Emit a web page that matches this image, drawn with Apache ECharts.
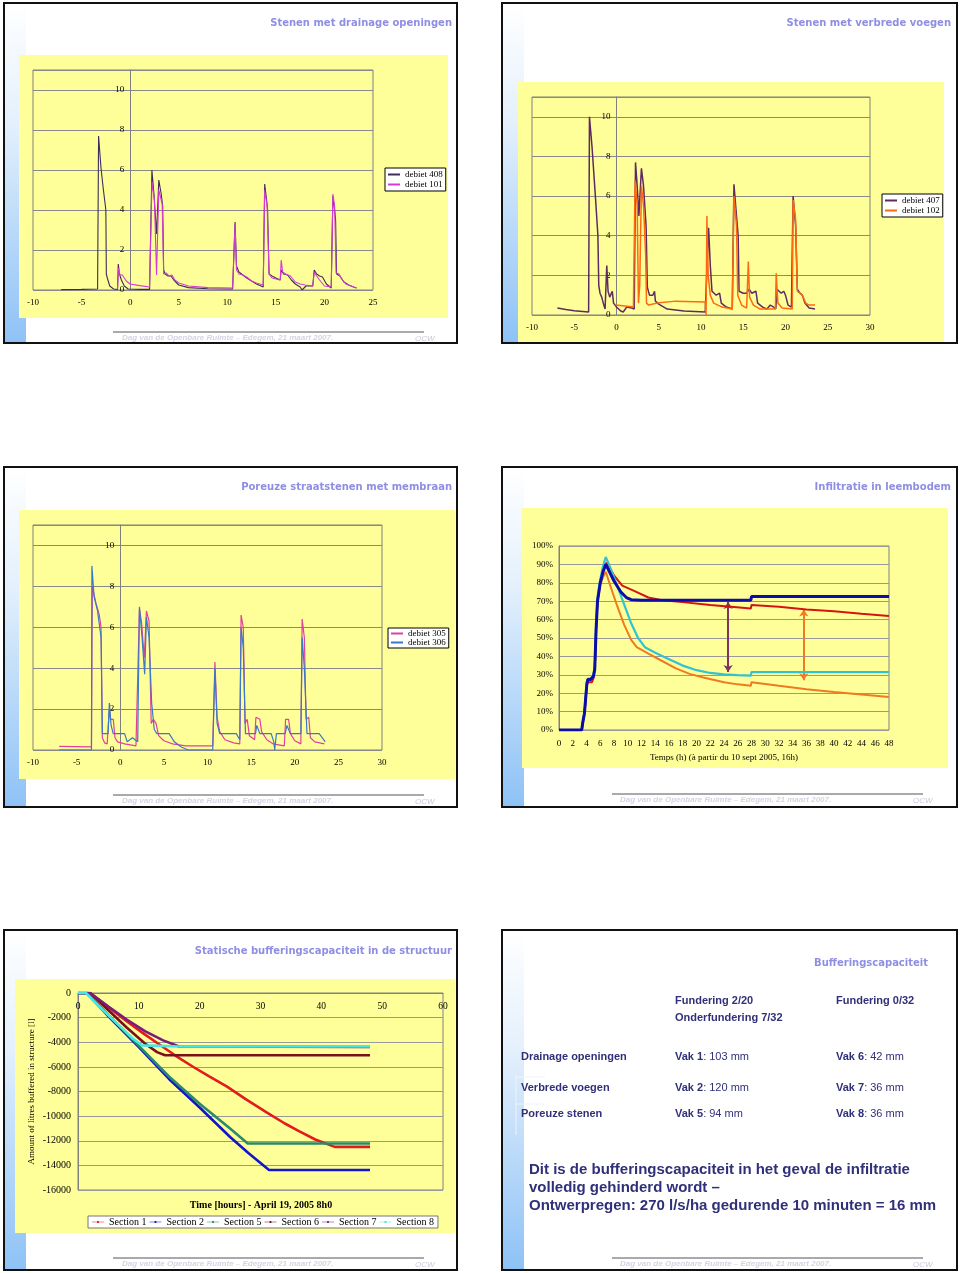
<!DOCTYPE html>
<html><head><meta charset="utf-8">
<script src="https://cdn.jsdelivr.net/npm/echarts@6.0.0/dist/echarts.min.js"></script>
<style>html,body{margin:0;padding:0;background:#fff}#c{width:960px;height:1273px}</style>
</head><body><div id="c"></div>
<script>
// ---------- DATA ----------
// Slide 1: Stenen met drainage openingen  [uur, debiet]
const debiet408 = [[-7.1,0.02],[-5,0.03],[-3.35,0.05],[-3.25,7.7],[-3.0,6.1],[-2.75,5.0],[-2.5,4.0],[-2.45,0.8],[-2.35,0.6],[-2.1,0.2],[-1.7,0.05],[-1.3,0.03],[-1.22,1.3],[-1.1,0.8],[-0.9,0.5],[-0.6,0.2],[-0.2,0.05],[1,0.03],[2.0,0.03],[2.24,6.0],[2.45,4.8],[2.72,2.8],[2.95,5.5],[3.2,4.8],[3.35,4.2],[3.45,1.0],[3.6,0.8],[3.9,0.7],[4.2,0.7],[4.5,0.5],[5,0.25],[6,0.12],[8,0.06],[10.55,0.05],[10.8,3.4],[10.95,1.2],[11.2,0.9],[11.6,0.75],[12,0.6],[12.5,0.45],[13,0.3],[13.7,0.15],[13.85,5.3],[14.05,4.5],[14.15,4.0],[14.3,0.8],[14.6,0.7],[15,0.6],[15.45,0.5],[15.55,1.0],[15.8,0.8],[16.2,0.75],[16.6,0.5],[17,0.3],[17.5,0.15],[17.7,0.0],[17.85,0.05],[18.1,0.2],[18.8,0.2],[18.95,1.0],[19.2,0.8],[19.5,0.7],[19.8,0.65],[20.2,0.3],[20.7,0.1],[20.87,4.7],[21.05,4.0],[21.15,3.5],[21.25,0.8],[21.6,0.7],[22,0.4],[22.5,0.25],[23,0.15],[23.3,0.1]];
const debiet101 = [[-1.3,0.05],[-1.2,1.1],[-1.05,0.75],[-0.8,0.75],[-0.6,0.8],[-0.4,0.45],[0,0.3],[1,0.22],[2.0,0.15],[2.25,5.4],[2.5,4.5],[2.72,0.75],[2.95,5.0],[3.3,4.3],[3.45,0.8],[3.7,0.85],[4.0,0.7],[4.3,0.75],[4.6,0.5],[5,0.35],[6,0.2],[8,0.12],[10.55,0.1],[10.8,3.3],[10.95,1.0],[11.2,0.8],[11.6,0.75],[12,0.65],[12.5,0.45],[13,0.35],[13.7,0.25],[13.85,5.0],[14.1,4.2],[14.3,0.8],[14.6,0.6],[15,0.55],[15.45,0.5],[15.55,1.5],[15.7,0.9],[16,0.8],[16.5,0.7],[17,0.4],[17.5,0.3],[18,0.25],[18.8,0.2],[18.95,0.9],[19.2,0.7],[19.5,0.5],[20,0.2],[20.7,0.15],[20.87,4.8],[21.05,4.2],[21.2,0.85],[21.5,0.8],[21.7,0.6],[22.2,0.3],[23,0.15],[23.3,0.1]];

// Slide 2: Stenen met verbrede voegen
const debiet407 = [[-7.0,0.35],[-6,0.28],[-5,0.22],[-4,0.18],[-3.3,0.15],[-3.2,10.0],[-2.9,8.5],[-2.5,6.0],[-2.2,4.0],[-2.1,1.5],[-1.95,1.1],[-1.75,0.9],[-1.5,0.5],[-1.35,0.3],[-1.15,2.5],[-1.0,1.2],[-0.8,0.9],[-0.6,0.8],[-0.5,1.2],[-0.35,0.6],[0,0.4],[0.5,0.2],[0.8,0.15],[1.2,0.4],[1.8,0.35],[2.1,0.3],[2.25,7.7],[2.45,6.5],[2.65,5.0],[2.95,7.4],[3.2,6.5],[3.5,4.5],[3.65,1.4],[3.9,1.0],[4.3,1.0],[4.5,1.2],[4.6,0.7],[5,0.55],[6,0.3],[8,0.2],[10.5,0.15],[10.9,4.4],[11.1,2.5],[11.3,1.2],[11.8,1.0],[12.2,1.1],[12.4,0.6],[13,0.4],[13.7,0.3],[13.9,6.6],[14.2,5.0],[14.4,4.0],[14.5,1.2],[15,1.1],[15.4,1.1],[15.7,1.3],[16,1.1],[16.5,1.2],[16.7,0.6],[17.3,0.4],[17.8,0.3],[18.2,0.5],[18.6,0.4],[18.85,0.3],[19.0,1.3],[19.5,1.1],[19.8,1.2],[20.0,1.0],[20.3,0.5],[20.7,0.4],[20.9,6.0],[21.2,4.5],[21.4,1.3],[21.7,1.1],[22.0,1.0],[22.3,0.6],[22.8,0.35],[23.5,0.3]];
const debiet102 = [[-0.1,0.5],[1.0,0.45],[2.0,0.4],[2.2,6.8],[2.45,5.5],[2.6,0.6],[2.75,1.5],[2.95,6.5],[3.2,5.5],[3.45,3.0],[3.55,0.6],[3.8,0.5],[4.8,0.6],[5,0.7],[7,0.7],[10.5,0.65],[10.6,0.0],[10.7,5.0],[10.85,2.0],[11.1,1.0],[11.5,0.6],[12.5,0.4],[13.7,0.3],[13.9,6.0],[14.2,4.5],[14.35,1.0],[14.8,0.5],[15.4,0.35],[15.6,2.7],[15.75,0.9],[16.2,0.5],[17,0.3],[18.8,0.3],[18.9,2.1],[19.1,0.6],[19.6,0.35],[20.8,0.3],[20.9,5.8],[21.2,4.8],[21.4,1.2],[21.7,1.1],[22,1.0],[22.4,0.6],[22.8,0.5],[23.5,0.5]];

// Slide 3: Poreuze straatstenen met membraan
const debiet305 = [[-7,0.18],[-3.3,0.15],[-3.2,8.0],[-2.8,7.2],[-2.4,6.6],[-2.2,6.0],[-2.05,0.6],[-1.8,0.35],[-1.5,0.3],[-1.25,2.0],[-1.1,1.5],[-0.8,1.5],[-0.6,0.6],[-0.3,0.4],[0.5,0.3],[1.8,0.2],[2.2,6.9],[2.45,6.2],[2.75,4.5],[3.0,6.8],[3.3,6.3],[3.55,1.3],[3.8,1.5],[4.1,1.3],[4.4,0.7],[5,0.45],[6,0.3],[7.5,0.2],[10.6,0.2],[10.85,4.3],[11.1,1.6],[11.4,0.9],[12,0.5],[13,0.35],[13.7,0.3],[13.85,6.6],[14.1,6.0],[14.3,1.3],[14.55,1.5],[14.8,0.7],[15.4,0.5],[15.55,1.6],[16.0,1.5],[16.2,0.9],[16.8,0.5],[17.5,0.3],[18.8,0.2],[18.95,1.5],[19.3,1.5],[19.5,0.8],[20,0.45],[20.7,0.3],[20.85,6.4],[21.1,5.5],[21.3,1.5],[21.6,1.6],[21.8,0.6],[22.3,0.4],[23.4,0.3]];
const debiet306 = [[-7,0.0],[-3.3,0.0],[-3.25,9.0],[-3.0,7.5],[-2.6,6.8],[-2.2,5.5],[-2.05,0.8],[-1.4,0.8],[-1.25,2.3],[-1.05,1.2],[-0.8,0.8],[0.5,0.8],[0.8,0.4],[1.4,0.6],[2.0,0.4],[2.2,7.0],[2.5,5.5],[2.8,3.7],[3.0,6.5],[3.3,5.5],[3.6,2.3],[3.9,1.0],[4.2,0.8],[5.6,0.8],[6.2,0.4],[7,0.15],[7.8,0.0],[10.6,0.0],[10.85,4.0],[11.1,1.3],[11.4,0.8],[13.3,0.8],[13.7,0.5],[13.85,6.0],[14.1,5.0],[14.35,0.8],[15.5,0.8],[15.65,1.2],[16.0,0.8],[17.3,0.8],[17.6,0.4],[17.7,0.0],[17.9,0.8],[18.9,0.8],[19.1,1.2],[19.5,0.8],[20.7,0.8],[20.85,5.5],[21.1,4.0],[21.4,0.8],[22.8,0.8],[23.5,0.4]];

// Slide 4: Infiltratie in leembodem  [uur, %]
const blueLine = [[0,0],[3.3,0],[3.5,5],[3.7,9],[3.9,10],[4.05,25],[4.2,27.5],[4.6,27.5],[5.0,29],[5.2,33],[5.4,55],[5.6,70],[6.0,80],[6.4,86],[6.8,90],[7.2,87],[8,81],[9,75],[9.8,72],[10.5,70.8],[12,70.5],[27.9,70.5],[28,72.5],[48,72.5]];
const redLine = [[0,0],[3.3,0],[3.5,5],[3.7,9],[3.9,10],[4.05,24],[4.2,26],[4.8,26],[5.0,28],[5.2,33],[5.4,55],[5.6,70],[6.0,80],[6.4,86],[6.9,91],[8.0,84],[9.2,78.5],[11,75.5],[13,72],[15,70.5],[18,69.5],[22,68],[25,67],[27.9,66],[28,68],[32,67],[36,65.5],[40,64.5],[44,63.2],[48,62]];
const cyanLine = [[0,0],[3.3,0],[3.5,5],[3.7,9],[3.9,10],[4.05,26],[4.2,28],[4.6,28],[5.0,30],[5.2,34],[5.4,57],[5.6,72],[6.0,82],[6.4,89],[6.8,94],[7.5,88],[8.5,78],[9.5,68],[10.5,58],[11.5,50],[12.5,45],[14,42],[16,38.5],[18,35],[20,32.5],[22,31],[24,30.2],[26,29.8],[27.9,29.5],[28,31.5],[48,31.5]];
const orangeLine = [[0,0],[3.3,0],[3.5,5],[3.7,9],[3.9,10],[4.05,25],[4.2,27],[4.6,27],[5.0,29],[5.2,33],[5.4,55],[5.6,70],[6.0,79],[6.4,83],[6.8,86],[7.5,78],[8.5,67],[9.5,57],[10.5,49],[11.3,45],[13,41.5],[15,37.5],[17,33.5],[19,30.5],[21,28.5],[24,26],[26,24.8],[27.9,24],[28,26],[30,25],[32,24],[36,22.2],[40,20.7],[44,19.3],[48,18]];
const arrowA = [[24.6,69.5],[24.6,31.5]];
const arrowB = [[35.6,65.5],[35.6,27]];

// Slide 5: Statische bufferingscapaciteit  [uur, liter]
const section1 = [[0,0],[2,0],[5,-1150],[8,-2300],[10.5,-3200],[13.5,-4220],[16,-5080],[18.9,-5990],[21.5,-6750],[24.5,-7600],[27.5,-8600],[31,-9700],[34,-10600],[36.4,-11240],[39,-11900],[42.2,-12500],[48,-12500]];
const section2 = [[0,0],[1.5,0],[5,-1900],[10,-4400],[15,-7000],[20,-9300],[25,-11700],[28,-13000],[31.4,-14380],[48,-14380]];
const section5 = [[0,0],[1.5,0],[5,-1800],[10,-4300],[15,-6800],[20,-9000],[25,-11000],[27.9,-12220],[48,-12220]];
const section6 = [[0,0],[2,0],[5,-1400],[8,-2800],[11,-4100],[13,-4800],[14.3,-5050],[48,-5050]];
const section7 = [[0,0],[2,0],[5,-1100],[8,-2150],[11,-3100],[14,-3850],[16.6,-4350],[48,-4380]];
const section8 = [[0,0],[1.3,0],[4,-1350],[7,-2750],[9,-3700],[10.5,-4250],[16.8,-4350],[48,-4350]];

// Slide 6: Bufferingscapaciteit table
const colHeads = [['Fundering 2/20','Onderfundering 7/32'],['Fundering 0/32']];
const rowHeads = ['Drainage openingen','Verbrede voegen','Poreuze stenen'];
const vakCol1 = [['Vak 1',': 103 mm'],['Vak 2',': 120 mm'],['Vak 5',': 94 mm']];
const vakCol2 = [['Vak 6',': 42 mm'],['Vak 7',': 36 mm'],['Vak 8',': 36 mm']];
const bodyLines = ['Dit is de bufferingscapaciteit in het geval de infiltratie','volledig gehinderd wordt –','Ontwerpregen: 270 l/s/ha gedurende 10 minuten = 16 mm'];
const titles = ['Stenen met drainage openingen','Stenen met verbrede voegen','Poreuze straatstenen met membraan','Infiltratie in leembodem','Statische bufferingscapaciteit in de structuur','Bufferingscapaciteit'];
const footerText = 'Dag van de Openbare Ruimte – Edegem, 21 maart 2007.';

// ---------- LAYOUT ----------
const SERIF = '"Liberation Serif","Times New Roman",serif';
const SANS = '"Liberation Sans",Arial,sans-serif';
const slides = [[4,3,453,340],[502,3,455,340],[4,467,453,340],[502,467,455,340],[4,930,453,340],[502,930,455,340]];
const yellowBoxes = [[19,55,429,263],[518,82,426,260],[19,510,436,269],[522,508,426,260],[15,979,440,254]];
const titlePos = [[452,23],[951,23],[452,487],[951,487],[452,951],[928,963]];
const footers = [[113,424,332,122,415],[113,424,795,122,415],[612,923,794,620,913],[113,424,1258,122,415],[612,923,1258,620,913]];
const YEL = '#ffff99';
const TXT = '#30307a';

const g = [];
slides.forEach(([x,y,w,h]) => {
  g.push({type:'rect', z:-30, shape:{x,y,width:w,height:h}, style:{fill:'#fff'}});
  g.push({type:'rect', z:-29, shape:{x:x+1,y:y+1,width:21,height:h-2},
    style:{fill:new echarts.graphic.LinearGradient(0,0,0,1,[{offset:0,color:'#ffffff'},{offset:0.35,color:'#e4f0fc'},{offset:1,color:'#8ec2f6'}])}});
});
yellowBoxes.forEach(([x,y,w,h]) => g.push({type:'rect', z:-28, shape:{x,y,width:w,height:h}, style:{fill:YEL}}));
footers.forEach(([x1,x2,y,tx,ox]) => {
  g.push({type:'line', z:-27, shape:{x1,y1:y,x2,y2:y}, style:{stroke:'#555', lineWidth:1}});
  g.push({type:'text', z:-27, x:tx, y:y+6, style:{text:footerText, fill:'#d4d4e4', font:'italic bold 8px '+SANS, verticalAlign:'middle', textVerticalAlign:'middle'}});
  g.push({type:'text', z:-27, x:ox, y:y+7, style:{text:'OCW', fill:'#c8c8da', font:'italic 8px '+SANS, verticalAlign:'middle', textVerticalAlign:'middle'}});
});
titles.forEach((t,i) => g.push({type:'text', z:40, x:titlePos[i][0], y:titlePos[i][1],
  style:{text:t, fill:'#8e8ee4', font:'bold 10px "DejaVu Sans",Verdana,sans-serif', align:'right', textAlign:'right', verticalAlign:'middle', textVerticalAlign:'middle'}}));
slides.forEach(([x,y,w,h]) => g.push({type:'rect', z:50, shape:{x,y,width:w,height:h}, style:{fill:'none', stroke:'#111', lineWidth:2}}));

// slide 5 axis title
g.push({type:'text', z:40, x:261, y:1205, style:{text:'Time [hours] - April 19, 2005 8h0', fill:'#000', font:'bold 10px '+SERIF, align:'center', textAlign:'center', verticalAlign:'middle', textVerticalAlign:'middle'}});

// slide 6 text
const tx = (x,y,text,font) => g.push({type:'text', z:40, x, y, style:{text, fill:TXT, font, verticalAlign:'middle', textVerticalAlign:'middle'}});
const richTx = (x,y,pair) => g.push({type:'text', z:40, x, y, style:{text:'{b|'+pair[0]+'}{r|'+pair[1]+'}', verticalAlign:'middle', textVerticalAlign:'middle',
  rich:{b:{fontWeight:'bold', fontSize:11, fontFamily:SANS, fill:TXT, color:TXT}, r:{fontSize:11, fontFamily:SANS, fill:TXT, color:TXT}}}});
g.push({type:'line', z:-26, shape:{x1:516,y1:1074,x2:516,y2:1135}, style:{stroke:'#eef3fa', lineWidth:1}});
g.push({type:'line', z:-26, shape:{x1:516,y1:1077,x2:545,y2:1077}, style:{stroke:'#eef3fa', lineWidth:1}});
g.push({type:'line', z:-26, shape:{x1:516,y1:1104,x2:545,y2:1104}, style:{stroke:'#eef3fa', lineWidth:1}});
tx(675,1001,colHeads[0][0],'bold 11px '+SANS);
tx(675,1018,colHeads[0][1],'bold 11px '+SANS);
tx(836,1001,colHeads[1][0],'bold 11px '+SANS);
const rowY = [1057,1088,1114];
rowHeads.forEach((r,i) => { tx(521,rowY[i],r,'bold 11px '+SANS); richTx(675,rowY[i],vakCol1[i]); richTx(836,rowY[i],vakCol2[i]); });
const bodyY = [1170,1188,1206];
bodyLines.forEach((l,i) => tx(529,bodyY[i],l,'bold 15px '+SANS));

// ---------- AXES ----------
const gridBase = {show:true, borderColor:'#808080', borderWidth:1, backgroundColor:'transparent'};
const gridRects = [[33,70,340,220],[532,97,338,218],[33,525,349,225],[559,546,330,184],[78,993,365,197]];
const grids = gridRects.map(([left,top,width,height]) => Object.assign({left,top,width,height}, gridBase));
const lab = (extra) => Object.assign({fontFamily:SERIF, fontSize:9, color:'#000'}, extra||{});
const debX = (gi,max) => ({type:'value', gridIndex:gi, min:-10, max, interval:5, splitLine:{show:false}, axisLine:{show:false}, axisTick:{show:false}, axisLabel:lab({margin:8})});
// y axis sits at x = 0 of the x axis: offset = pixel distance of x=0 from grid left
const debY = (gi,xmax) => ({type:'value', gridIndex:gi, min:0, max:11, interval:2,
  offset: -gridRects[gi][2] * 10 / (xmax + 10),
  axisLine:{show:true, onZero:false, lineStyle:{color:'#808080'}}, axisTick:{show:false},
  splitLine:{show:true, lineStyle:{color:'#888', width:1}},
  axisLabel:lab({margin:6, formatter:v => v===11 ? '' : String(v)})});
const xAxes = [debX(0,25), debX(1,30), debX(2,30),
  {type:'value', gridIndex:3, min:0, max:48, interval:2, splitLine:{show:false}, axisLine:{show:false}, axisTick:{show:false},
   axisLabel:lab({margin:9}), name:'Temps (h) (à partir du 10 sept 2005, 16h)', nameLocation:'middle', nameGap:23, nameTextStyle:{fontFamily:SERIF, fontSize:9, color:'#000'}},
  {type:'value', gridIndex:4, position:'top', min:0, max:60, interval:10, splitLine:{show:false}, axisLine:{show:true, onZero:false, lineStyle:{color:'#808080'}}, axisTick:{show:false},
   axisLabel:lab({inside:true, margin:8, fontSize:9.5})}
];
const yAxes = [debY(0,25), debY(1,30), debY(2,30),
  {type:'value', gridIndex:3, min:0, max:100, interval:10, axisLine:{show:true, lineStyle:{color:'#808080'}}, axisTick:{show:false},
   splitLine:{lineStyle:{color:'#999'}}, axisLabel:lab({margin:6, formatter:'{value}%'})},
  {type:'value', gridIndex:4, min:-16000, max:0, interval:2000, axisLine:{show:true, onZero:false, lineStyle:{color:'#808080'}}, axisTick:{show:false},
   splitLine:{lineStyle:{color:'#999'}}, axisLabel:lab({margin:7, fontSize:10, formatter:v => String(v)}),
   name:'Amount of litres buffered in structure [l]', nameLocation:'middle', nameGap:42, nameTextStyle:{fontFamily:SERIF, fontSize:9, color:'#000'}}
];

// ---------- SERIES ----------
const ln = (name, data, gi, color, width) => ({name, type:'line', data, xAxisIndex:gi, yAxisIndex:gi, showSymbol:false, symbol:'none',
  lineStyle:{color, width}, itemStyle:{color}, silent:true, animation:false});
const arrow = (name, coords, color) => ({name, type:'lines', coordinateSystem:'cartesian2d', xAxisIndex:3, yAxisIndex:3,
  symbol:['arrow','arrow'], symbolSize:7, silent:true, animation:false,
  lineStyle:{color, width:2, opacity:1}, data:[{coords}]});
const series = [
  ln('debiet 408', debiet408, 0, '#3b2e5e', 1.1),
  ln('debiet 101', debiet101, 0, '#d53ad6', 1.1),
  ln('debiet 407', debiet407, 1, '#5e2a62', 1.5),
  ln('debiet 102', debiet102, 1, '#ff6a10', 1.5),
  ln('debiet 305', debiet305, 2, '#e0409e', 1.2),
  ln('debiet 306', debiet306, 2, '#3a78c8', 1.2),
  ln('oranje', orangeLine, 3, '#f07a20', 2),
  ln('rood', redLine, 3, '#d41414', 2),
  ln('cyaan', cyanLine, 3, '#32c2d2', 2.2),
  ln('blauw', blueLine, 3, '#0c0caa', 3),
  arrow('pijl A', arrowA, '#7e3565'),
  arrow('pijl B', arrowB, '#f07a28'),
  ln('Section 1', section1, 4, '#e21c1c', 2.6),
  ln('Section 2', section2, 4, '#1414c8', 2.6),
  ln('Section 5', section5, 4, '#2a8a6a', 2.6),
  ln('Section 6', section6, 4, '#7a0f1e', 2.6),
  ln('Section 7', section7, 4, '#7a1c7c', 2.6),
  ln('Section 8', section8, 4, '#44e6e8', 2.6)
];

const legBase = {orient:'vertical', selectedMode:false, icon:'rect', itemWidth:12, itemHeight:2, itemGap:1,
  padding:[2,3,2,3], borderColor:'#000', borderWidth:1, backgroundColor:'#fff',
  textStyle:{fontFamily:SERIF, fontSize:9, color:'#000'}};
const legends = [
  Object.assign({}, legBase, {left:385, top:168, data:['debiet 408','debiet 101']}),
  Object.assign({}, legBase, {left:882, top:194, data:['debiet 407','debiet 102']}),
  Object.assign({}, legBase, {left:388, top:628, itemGap:0, padding:[1,3,1,3], textStyle:{fontFamily:SERIF, fontSize:9, color:'#000', lineHeight:8}, data:['debiet 305','debiet 306']}),
  {orient:'horizontal', selectedMode:false, left:88, top:1216, itemWidth:12, itemHeight:6, itemGap:3, padding:[1,4,1,4],
   icon:'path://M0,2.6H16V3.4H0Z M6.8,1.6H9.2V4.4H6.8Z', borderColor:'#777', borderWidth:1, backgroundColor:'#fff',
   textStyle:{fontFamily:SERIF, fontSize:10, color:'#000'}, data:['Section 1','Section 2','Section 5','Section 6','Section 7','Section 8']}
];

const chart = echarts.init(document.getElementById('c'), null, {renderer:'canvas', width:960, height:1273});
chart.setOption({
  backgroundColor:'#ffffff',
  animation:false,
  graphic:{elements:g},
  grid:grids, xAxis:xAxes, yAxis:yAxes, legend:legends, series
});
</script></body></html>
